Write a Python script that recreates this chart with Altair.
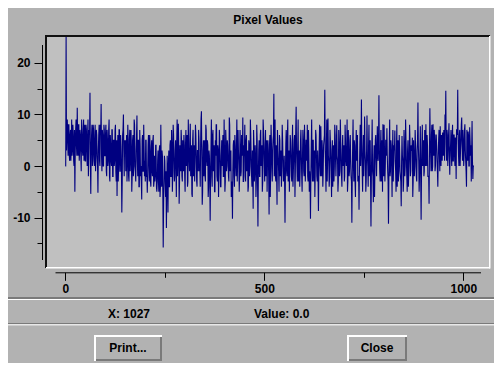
import altair as alt
import pandas as pd

# ---- data ----
# even sample indices 0, 2, ..., 1026
ev_000 = [0, 25, 7, 5, 8, 2, 6, 1, 9, 3, 6, 0, -5, 7, 4, 11.3, 2, 8, 3, 6, -1, 7, 2, 9, 4]
ev_050 = [1, 8, 3, 6, -2, 7, 14.2, -5.4, 6, 0, 8, 2, 5, -1, 7, 2, -5.2, 6, 1, 8, 12, -1, 6, 0, 7]
ev_100 = [2, 8, -2, 5, 1, 9, -3, 4, 0, 7, -2, 5, 1, 8, -3, -5.8, 6, 0, 7, -1, 4, -9, 6, 10, -2]
ev_150 = [3, -1, 6, 0, 5, -3, 7, 1, 4, -2, 6, 0, 8, -1, 3, 9.8, -2, 5, -4, 4, 0, -6.5, 6, -1, 3]
ev_200 = [1, 5, -2, -5.2, 4, 0, 6, -3, 3, -1, 5, -4, 2, -2, 4, -5, 1, -3, 3, -6, 8, -4, 2, -15.8, -3]
ev_250 = [1, -6, -12, 2, -9, 3, -4, 5, -2, 4, -1, 6, -3, 3, 0, 5, -2, 8.2, -7.3, 4, -1, 5, -3, 2, 6]
ev_300 = [-2, 4, 0, 6, -3, 3, -1, 8.2, 0, -5.4, 5, -2, 4, 1, 6, -3, 3, -1, 5, 0, 4, 10.6, -7.5, 3, -2]
ev_350 = [5, -3, 7, 0, 4, -4, 2, -10.6, 3, -2, 6, -1, 4, -5, 2, 8, -3, 3, -1, 5, -4, 2, 0, 6, -2]
ev_400 = [3, -3, 5, 0, 4, -2, 9.4, -1, 3, -4, -10.2, 4, -2, 6, 0, 3, -3, 7, 1, -2, 4, -1, 5, 9.4, -3]
ev_450 = [2, -2, 5, -1, 3, -4, 4, 0, 6, -2, 3, -8.3, 4, -1, 2, -3, 5, -11.7, 3, -2, 6, 0, 4, -3, 7]
ev_500 = [0, 4, -2, 5, 1, 3, -9.4, 6, -1, 4, -3, 5, 14, 1, -2, 4, -7.5, 3, -1, 6, -2, 3, 0, 5, -3]
ev_550 = [2, -11, 4, -1, 6, -3, 3, 0, 5, -2, 4, -4, 2, 6, -1, 11.5, 0, 4, -3, 3, -1, 7, -2, 2, 5]
ev_600 = [-2, 4, 0, 5, 8, -3, 3, -1, -10.2, 4, 0, 5, -3, 3, -1, 6, -2, 3, -8.7, 4, 0, 7.7, -2, 3, -1]
ev_650 = [5, 14.8, 0, 4, -3, 9.2, 1, -2, 5, -1, 3, -4, 4, 0, 6, -2, 7.9, 1, -3, 4, -1, 5, -2, 3, 0]
ev_700 = [4, -2, 5, 0, 9, -3, 3, -1, 6, -2, -11, 4, 0, 5, -3, 3, 1, 6, -2, -8.5, 4, 0, 12.9, -1, 3]
ev_750 = [-2, 9.6, 1, -3, 9.8, 0, 4, -2, 5, -11.7, 3, -1, -7, 4, 0, 6, -2, 7.7, 1, 13.7, -1, 4, -3, 5, 8.1]
ev_800 = [-2, 3, 0, 5, 7.3, -1, -11.2, 4, -2, 5, 0, 3, -3, 4, 6.9, -1, 3, -4, 5, 0, 3, -2, -7.8, 5.8, 1]
ev_850 = [-3, 4, 0, 5, -2, 3, -4, 2, 5, -1, 3, 5.5, -3, 2, 0, 4, -2, 3, 12.3, 1, -2, 7.7, -10.4, 4, 0]
ev_900 = [5, -1, 3, 8.1, 0, 4, -2, -7.3, 11.2, 2, 6, -1, 8.1, 2, 5, 0, 6, 1, -4, 5, 2, 7.7, 0, 4, 6.5]
ev_950 = [2, 5, 10, 14.6, 1, 6, 3, 8.3, -1.7, 4, 2, 5.8, 1, 6, 2, 5.5, -2.5, 7, 14.8, 2, 6, 0, 5, 9.4, 1]
ev_1000 = [5, 2, 8.1, 1, -4, 5, 6.7, 0, 7.5, 2, -3, 8.7, -2.5, 0]

# odd sample indices 1, 3, ..., 1025
od_000 = [0, 3, 9, 2, 8, 1, 7, 4, 2, 8, 1, 7, 3, 9, 2, 5, 8, 1, 7, 2, 9, 3, 6, 1, 8]
od_050 = [1, 7, 0, 9, 2, 6, 1, 3, 8, 1, 7, 0, 8, 2, 6, 0, 3, 8, 0, 6, 2, 7, 0, 8, 2]
od_100 = [6, -1, 7, 0, 7, -2, 6, 1, 7, -2, 5, 0, 7, -1, 5, 2, -3, 7, -1, 6, 0, -3, 7, 3, 5]
od_150 = [5, 2, -3, 8, -2, 5, -1, 7, -5, 5, -2, 9, 0, -3, 6, 1, 5, -4, 7, -2, -3, 5, -1, 8, -2]
od_200 = [-3, 5, -2, -1, 6, -3, 4, -4, 5, -2, 6, -3, -3, 4, -4, -3, 3, -5, 4, -4, 0, 3, -5, -7, 2]
od_250 = [-3, -1, -5, -2, 0, -4, 4, -2, 7, -5, 8, 1, -2, 5, -6, 9, 1, 4, -3, 2, 7, -2, 5, -1, 4]
od_300 = [-5, 7, 2, -4, 9, 1, 5, -2, 4, -6, 7, 0, -3, 8, 2, -4, 3, 7, -1, -4, 9, 2, -5, 5, 1]
od_350 = [-2, 8, 1, 5, -6, 3, -3, -1, 9, -4, 7, 0, -5, 5, 8, -2, 4, -6, 7, 1, -4, 5, 3, -2, 9]
od_400 = [-5, 7, -1, 5, 1, -3, 8, 2, -6, -3, -1, 5, -4, 4, -2, 9, 1, 3, -5, 7, -2, 6, 2, -3, 4]
od_450 = [8, -3, 6, 1, -5, 5, -2, 9, 1, -4, -2, 7, -3, 4, -6, 8, -3, -2, 5, -2, 7, 1, -5, 9, 3]
od_500 = [-3, 7, 1, -5, 5, -2, 4, -6, 8, 0, 3, 6, -2, 9, -3, -2, 7, 1, -5, 5, 2, -4, 8, 1, -2]
od_550 = [-3, -2, 7, -2, 9, 1, -5, 6, 2, -3, 8, -1, 5, -6, 7, 3, -3, 9, 1, -4, 5, 2, -5, 7, -1]
od_600 = [8, -3, 5, 1, -2, 7, -5, -3, -2, 9, -3, 5, 1, -6, 7, 2, -3, -2, -1, 8, -2, 3, 5, -4, 4]
od_650 = [6, 3, -5, 9, 1, 2, -4, 7, 2, -6, 5, 0, -3, 8, 1, 3, 2, -5, 7, -2, 9, 1, -4, 6, 2]
od_700 = [-3, 8, 1, 3, -5, 7, -2, 5, 1, -3, -2, 9, -3, 4, -6, 7, 3, -3, -2, -1, 8, 4, 3, -5, 6]
od_750 = [2, 3, -5, 3, 2, -4, 8, 1, -3, -2, 9, -2, 1, -6, 5, 2, 3, 2, 5, 3, -3, 7, 1, -5, 4]
od_800 = [8, -3, 5, 2, 2, -3, -2, 9, -1, 4, -6, 7, 1, 3, 1, -5, 8, 2, -3, 6, -1, -3, 1, 2, -5]
od_850 = [7, -2, 9, 1, -5, 5, -1, 8, -2, 4, 3, -6, 5, -2, 7, 1, -3, 5, 4, -5, 2, -2, -1, 8, 3]
od_900 = [-2, 7, 0, 3, 6, -2, -2, 3, 5, -1, 8, 0, 3, 7, -1, 6, 4, -1, 2, 7, -1, 3, 6, 1, 3]
od_950 = [7, 1, 7, 4, 7, 0, 6, 2, 3, 7, 0, 8, 1, 6, 0, 4, 7, 6, 5, 0, 7, 3, 8, 4, 7]
od_1000 = [0, 7, 3, -1, 7, 1, 6, 0, 5, 4, 3, 1, 0]

last_value = [0.0]   # sample 1027

even_vals = (ev_000 + ev_050 + ev_100 + ev_150 + ev_200 + ev_250 + ev_300 + ev_350 + ev_400
             + ev_450 + ev_500 + ev_550 + ev_600 + ev_650 + ev_700 + ev_750 + ev_800
             + ev_850 + ev_900 + ev_950 + ev_1000)
odd_vals = (od_000 + od_050 + od_100 + od_150 + od_200 + od_250 + od_300 + od_350 + od_400
            + od_450 + od_500 + od_550 + od_600 + od_650 + od_700 + od_750 + od_800
            + od_850 + od_900 + od_950 + od_1000)

pixel_values = []
for k, v in enumerate(even_vals):
    pixel_values.append(v)
    if k < len(odd_vals):
        pixel_values.append(odd_vals[k])
pixel_values += last_value
sample_x = list(range(len(pixel_values)))

y_ticks = [-15, -10, -5, 0, 5, 10, 15, 20]
x_ticks = [0, 250, 500, 750, 1000]

title_text = "Pixel Values"
status_x = "X: 1027"
status_value = "Value: 0.0"
button_labels = ["Print...", "Close"]

df = pd.DataFrame({"x": sample_x, "v": pixel_values})
one = pd.DataFrame({"k": [0]})

BG = "#b2b2b2"
PLOT = "#c0c0c0"
DARK = "#7a7a7a"
FONT = "Liberation Sans"
W, H = 486, 355


def box(x1, x2, y1, y2, color):
    return alt.Chart(one).mark_rect(color=color).encode(
        x=alt.value(x1), x2=alt.value(x2), y=alt.value(y1), y2=alt.value(y2))


def label(txt, x, y, align="left"):
    return alt.Chart(one).mark_text(
        text=txt, font=FONT, fontSize=12, fontWeight="bold", color="black",
        align=align, baseline="alphabetic").encode(x=alt.value(x), y=alt.value(y))


layers = []
# outer etched frame (bottom edge visible)
layers += [box(-4, 488, 289, 291, DARK), box(-4, 489.5, 291, 292, "white")]
# bottom panel edge
layers += [box(-8, 494, 315, 316, DARK), box(-8, 494, 316, 317.5, "#e8e8e8")]
# plot area
layers += [box(39, 481, 29, 259, PLOT)]
layers += [box(37, 482, 27, 29, "#111111"), box(37, 39, 27, 260, "#111111"),
           box(38, 482, 259, 260.5, "white"), box(481, 482.5, 28, 260.5, "white")]
# title and status texts
layers += [label(title_text, 260, 16, "center"), label(status_x, 100, 310),
           label(status_value, 246, 310)]
# buttons
for (x1, x2), txt in zip([(86, 154), (339, 399)], button_labels):
    layers += [box(x1, x2, 327, 353, "white"),
               box(x1 + 2, x2, 329, 353, DARK),
               box(x1 + 2, x2 - 2, 329, 351, BG),
               label(txt, (x1 + x2) / 2, 344, "center")]

xscale = alt.Scale(domain=[-25.9, 1043.2], range=[47, 472.5], nice=False, zero=False)
yscale = alt.Scale(domain=[-18.12, 23.55], range=[251.5, 36.5], nice=False, zero=False)

axis_common = dict(title=None, grid=False, domainColor="black", tickColor="black",
                   domainWidth=1, tickWidth=1, labelFont=FONT, labelFontSize=12,
                   labelFontWeight="bold", labelColor="black")

line = alt.Chart(df).mark_line(color="#000080", strokeWidth=1.1, clip=False).encode(
    x=alt.X("x:Q", scale=xscale, axis=alt.Axis(
        values=x_ticks, orient="bottom", offset=-(H - 264.3),
        tickSize={"condition": {"test": "datum.value % 500 === 0", "value": 8}, "value": 5},
        labelExpr="datum.value % 500 === 0 ? toString(datum.value) : ''",
        labelPadding=3, labelFlush=False, labelOverlap=False, **axis_common)),
    y=alt.Y("v:Q", scale=yscale, axis=alt.Axis(
        values=y_ticks, orient="left", offset=-34,
        tickSize={"condition": {"test": "datum.value % 10 === 0", "value": 8}, "value": 5},
        labelExpr="datum.value % 10 === 0 ? toString(datum.value) : ''",
        labelPadding=4, labelFlush=False, labelOverlap=False, **axis_common)),
    order="x:Q",
)

chart = alt.layer(*layers, line).properties(
    width=W, height=H, padding=0, autosize=alt.AutoSizeParams(type="none"),
).configure(background=BG).configure_view(stroke=None)

chart.save("out.html", embed_options={"renderer": "svg", "actions": False})
